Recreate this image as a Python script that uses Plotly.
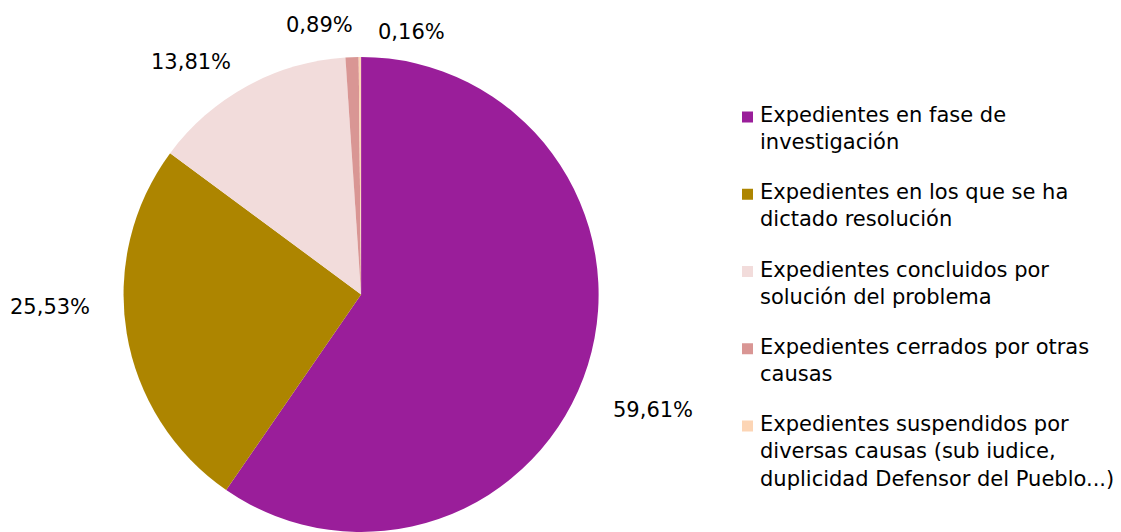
import plotly.graph_objects as go

W, H = 1121, 532

categories = [
    "Expedientes en fase de<br>investigación",
    "Expedientes en los que se ha<br>dictado resolución",
    "Expedientes concluidos por<br>solución del problema",
    "Expedientes cerrados por otras<br>causas",
    "Expedientes suspendidos por<br>diversas causas (sub iudice,<br>duplicidad Defensor del Pueblo...)",
]
shares = [59.61, 25.53, 13.81, 0.89, 0.16]
colors = ["#9A1E9A", "#AD8500", "#F2DCDB", "#D99694", "#FCD5B5"]

# percentage label centres (px from top-left)
label_pos = [(653, 410), (50, 307), (191, 62), (319, 25), (411, 32)]


def px(x):
    return x / W


def py(y):
    return 1 - y / H


FONT = "DejaVu Sans"
SIZE = 21

fig = go.Figure(
    go.Pie(
        labels=[c.replace("<br>", " ") for c in categories],
        values=shares,
        sort=False,
        direction="clockwise",
        rotation=0,
        marker=dict(colors=colors, line=dict(width=0)),
        textinfo="none",
        showlegend=False,
        domain=dict(x=[0.1098, 0.5344], y=[0.0, 0.893]),
        hoverinfo="label+percent",
    )
)

annotations = []
for v, (x, y) in zip(shares, label_pos):
    annotations.append(dict(
        x=px(x), y=py(y), xref="paper", yref="paper",
        text=f"{v:.2f}".replace(".", ",") + "%",
        showarrow=False, xanchor="center", yanchor="middle",
        font=dict(family=FONT, size=SIZE, color="#000000"),
    ))

# legend: coloured square plus wrapped caption per category
shapes = []
first_line_y = 116
step = 77.25
for i, (name, col) in enumerate(zip(categories, colors)):
    cy = first_line_y + i * step
    shapes.append(dict(
        type="rect", xref="paper", yref="paper",
        x0=px(742), x1=px(753), y0=py(cy - 5.5 + 1), y1=py(cy + 5.5 + 1),
        fillcolor=col, line=dict(width=0),
    ))
    annotations.append(dict(
        x=px(758), y=py(cy - 15), xref="paper", yref="paper",
        text=name, showarrow=False, xanchor="left", yanchor="top", align="left",
        font=dict(family=FONT, size=SIZE, color="#000000"),
    ))

fig.update_layout(
    width=W,
    height=H,
    margin=dict(l=0, r=0, t=0, b=0),
    paper_bgcolor="white",
    plot_bgcolor="white",
    font=dict(family=FONT, size=SIZE, color="#000000"),
    annotations=annotations,
    shapes=shapes,
)

fig.write_html("out.html")
